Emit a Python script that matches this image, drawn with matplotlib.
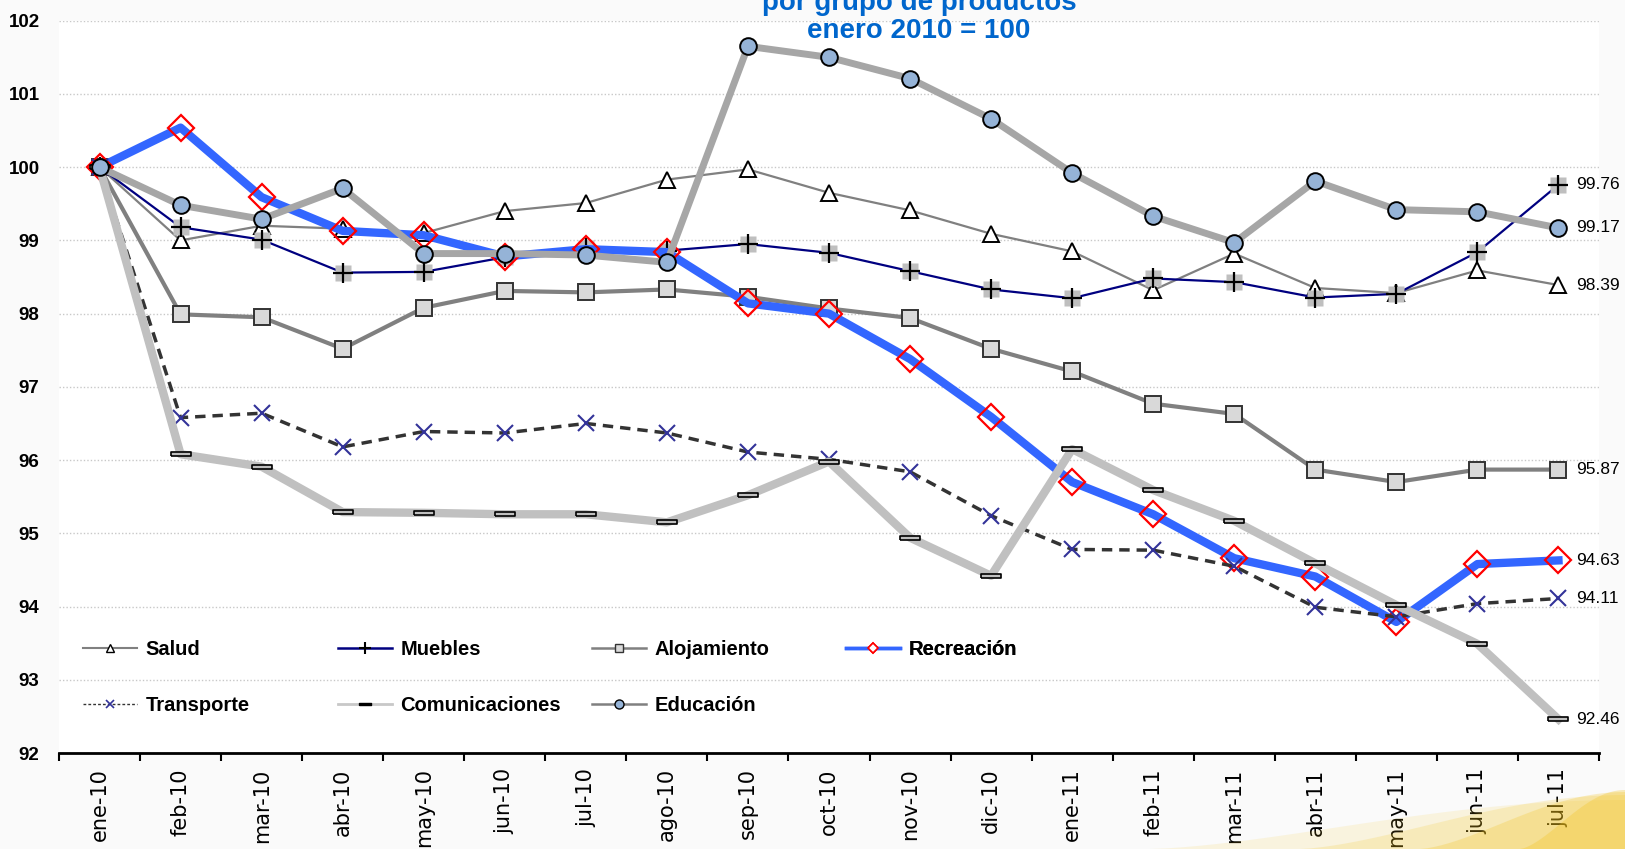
import numpy as np
import matplotlib
matplotlib.use("Agg")
import matplotlib.pyplot as plt
from matplotlib.lines import Line2D
from matplotlib.patches import Polygon

# ---------------- data ----------------
meses = ['ene-10', 'feb-10', 'mar-10', 'abr-10', 'may-10', 'jun-10', 'jul-10',
         'ago-10', 'sep-10', 'oct-10', 'nov-10', 'dic-10', 'ene-11', 'feb-11',
         'mar-11', 'abr-11', 'may-11', 'jun-11', 'jul-11']

salud = [100, 99.00, 99.20, 99.16, 99.10, 99.40, 99.51, 99.83, 99.97, 99.65,
         99.41, 99.09, 98.85, 98.32, 98.82, 98.35, 98.28, 98.59, 98.39]
muebles = [100, 99.18, 99.01, 98.56, 98.57, 98.77, 98.89, 98.86, 98.95, 98.83,
           98.58, 98.33, 98.21, 98.48, 98.43, 98.22, 98.27, 98.84, 99.76]
alojamiento = [100, 97.99, 97.95, 97.52, 98.08, 98.31, 98.29, 98.33, 98.23, 98.07,
               97.94, 97.52, 97.21, 96.77, 96.63, 95.87, 95.70, 95.87, 95.87]
recreacion = [100, 100.54, 99.59, 99.13, 99.07, 98.78, 98.88, 98.84, 98.14, 98.00,
              97.38, 96.59, 95.70, 95.26, 94.66, 94.41, 93.79, 94.58, 94.63]
transporte = [100, 96.58, 96.64, 96.18, 96.39, 96.37, 96.50, 96.37, 96.11, 96.01,
              95.84, 95.24, 94.78, 94.77, 94.55, 93.99, 93.86, 94.04, 94.11]
comunicaciones = [100, 96.08, 95.91, 95.29, 95.28, 95.26, 95.26, 95.15, 95.52, 95.98,
                  94.94, 94.42, 96.15, 95.59, 95.17, 94.59, 94.02, 93.49, 92.46]
educacion = [100, 99.48, 99.29, 99.71, 98.82, 98.82, 98.80, 98.70, 101.65, 101.50,
             101.21, 100.66, 99.92, 99.33, 98.97, 99.81, 99.42, 99.39, 99.17]

titulo = ['por grupo de productos', 'enero 2010 = 100']
yticks = list(range(92, 103))

# ---------------- figure ----------------
W, H = 1625, 849
fig = plt.figure(figsize=(W / 100, H / 100), dpi=100, facecolor='#fafafa')
ax = fig.add_axes([59 / W, 96 / H, 1540 / W, 732.3 / H])
ax.set_facecolor('white')

x = np.arange(len(meses))
bold = dict(family='Liberation Sans', weight='bold')

# Salud
ax.plot(x, salud, color='#808080', lw=1.6, marker='^', ms=12, mfc='white',
        mec='black', mew=1.4, zorder=3)
# Muebles
ax.plot(x, muebles, color='#000080', lw=1.6, zorder=3.1)
ax.plot(x, muebles, ls='none', marker='s', ms=11.5, mfc='#bfbfbf', mec='none', zorder=3.2)
ax.plot(x, muebles, ls='none', marker='+', ms=15, mec='black', mew=1.6, zorder=3.3)
# Alojamiento
ax.plot(x, alojamiento, color='#808080', lw=3, marker='s', ms=11.5, mfc='#d9d9d9',
        mec='#333333', mew=1.4, zorder=3.4)
# Recreación
ax.plot(x, recreacion, color='#3366ff', lw=6, marker='D', ms=13, mfc='none',
        mec='#ff0000', mew=1.6, zorder=3.5)
# Transporte
ax.plot(x, transporte, color='#333333', lw=2.5, ls=(0, (3, 2)), marker='x', ms=12,
        mec='#333399', mew=1.5, zorder=3.6)
# Comunicaciones
rect = [(-1, -0.22), (1, -0.22), (1, 0.22), (-1, 0.22), (-1, -0.22)]
ax.plot(x, comunicaciones, color='#c0c0c0', lw=6, marker=rect, ms=15,
        mfc='#c0c0c0', mec='black', mew=1.2, zorder=3.7)
# Educación
ax.plot(x, educacion, color='#a6a6a6', lw=5, marker='o', ms=12, mfc='#95b3d7',
        mec='black', mew=1.4, zorder=3.8)

# end labels
for serie in [salud, muebles, alojamiento, recreacion, transporte, comunicaciones, educacion]:
    ax.annotate(f'{serie[-1]:.2f}', xy=(x[-1], serie[-1]), xytext=(13, 0),
                textcoords='offset points', va='center', ha='left',
                fontsize=12.5, family='Liberation Sans', color='black')

# axes
ax.set_xlim(-0.5, len(meses) - 0.5)
ax.set_ylim(92, 102)
for s in ['top', 'right', 'left']:
    ax.spines[s].set_visible(False)
ax.spines['bottom'].set_linewidth(2)
ax.spines['bottom'].set_color('black')

ax.set_yticks(yticks)
ax.set_yticklabels([str(t) for t in yticks], fontsize=13.5, **bold)
ax.tick_params(axis='y', length=0, pad=14)
ax.yaxis.grid(True, linestyle=(0, (1, 1.5)), color='#c8c8c8', lw=1)
ax.set_axisbelow(True)

ax.set_xticks(np.arange(-0.5, len(meses), 1))
ax.set_xticklabels([])
ax.tick_params(axis='x', which='major', length=6, width=1.5, direction='out', color='black')
ax.set_xticks(x, minor=True)
ax.set_xticklabels(meses, minor=True, rotation=90, fontsize=15, family='DejaVu Sans')
ax.tick_params(axis='x', which='minor', length=0, pad=11)

# legends (grid-like, one per column)
h_salud = Line2D([], [], color='#808080', lw=1.5, marker='^', ms=6, mfc='white', mec='black', mew=1)
h_muebles = Line2D([], [], color='#000080', lw=1.8, marker='+', ms=8, mec='black', mew=1.5)
h_aloj = Line2D([], [], color='#808080', lw=1.8, marker='s', ms=6, mfc='#d9d9d9', mec='#333333', mew=1)
h_recr = Line2D([], [], color='#3366ff', lw=2.5, marker='D', ms=5.5, mfc='white', mec='#ff0000', mew=1.2)
h_trans = Line2D([], [], color='#333333', lw=1.0, ls=(0, (2, 1.5)), marker='x', ms=6, mec='#333399', mew=1.2)
h_com = Line2D([], [], color='#c8c8c8', lw=2, marker=rect, ms=8, mfc='black', mec='black', mew=1)
h_edu = Line2D([], [], color='#808080', lw=1.8, marker='o', ms=6.5, mfc='#95b3d7', mec='black', mew=1)

cols = [([h_salud, h_trans], ['Salud', 'Transporte']),
        ([h_muebles, h_com], ['Muebles', 'Comunicaciones']),
        ([h_aloj, h_edu], ['Alojamiento', 'Educación']),
        ([h_recr], ['Recreación'])]
xs = [(83 - 59) / 1540, (338 - 59) / 1540, (592 - 59) / 1540, (846 - 59) / 1540]
for (hs, ls_), xc in zip(cols, xs):
    leg = ax.legend(hs, ls_, loc='upper left', bbox_to_anchor=(xc, (753 - 640) / 732.3),
                    frameon=False, borderpad=0, borderaxespad=0, handlelength=2.7,
                    handletextpad=0.4, labelspacing=1.85,
                    prop=dict(family='Liberation Sans', weight='bold', size=14.5))
    ax.add_artist(leg)

# title (partly cut at top, as in the source image)
fig.text(919 / W, 1 - 3 / H, titulo[0], ha='center', va='center', color='#0066cc',
         fontsize=20, **bold)
fig.text(919 / W, 1 - 31 / H, titulo[1], ha='center', va='center', color='#0066cc',
         fontsize=20, **bold)

# decorative yellow swoosh bottom-right (layered for a soft gradient)
layers = [(1150, 800, 0.12), (1300, 795, 0.18), (1420, 792, 0.25), (1520, 790, 0.3)]
for x0, ytop, a in layers:
    xs_c = np.linspace(x0, W, 30)
    t = (xs_c - x0) / (W - x0)
    ys_c = H - (H - ytop) * np.sin(t * np.pi / 2) ** 1.5
    pts = [(xx / W, 1 - yy / H) for xx, yy in zip(xs_c, ys_c)] + [(1, 0), (x0 / W, 0)]
    fig.patches.append(Polygon(pts, closed=True, transform=fig.transFigure,
                               facecolor='#f2c21b', edgecolor='none', alpha=a, zorder=0))

fig.savefig('out.png', dpi=100, facecolor=fig.get_facecolor())
